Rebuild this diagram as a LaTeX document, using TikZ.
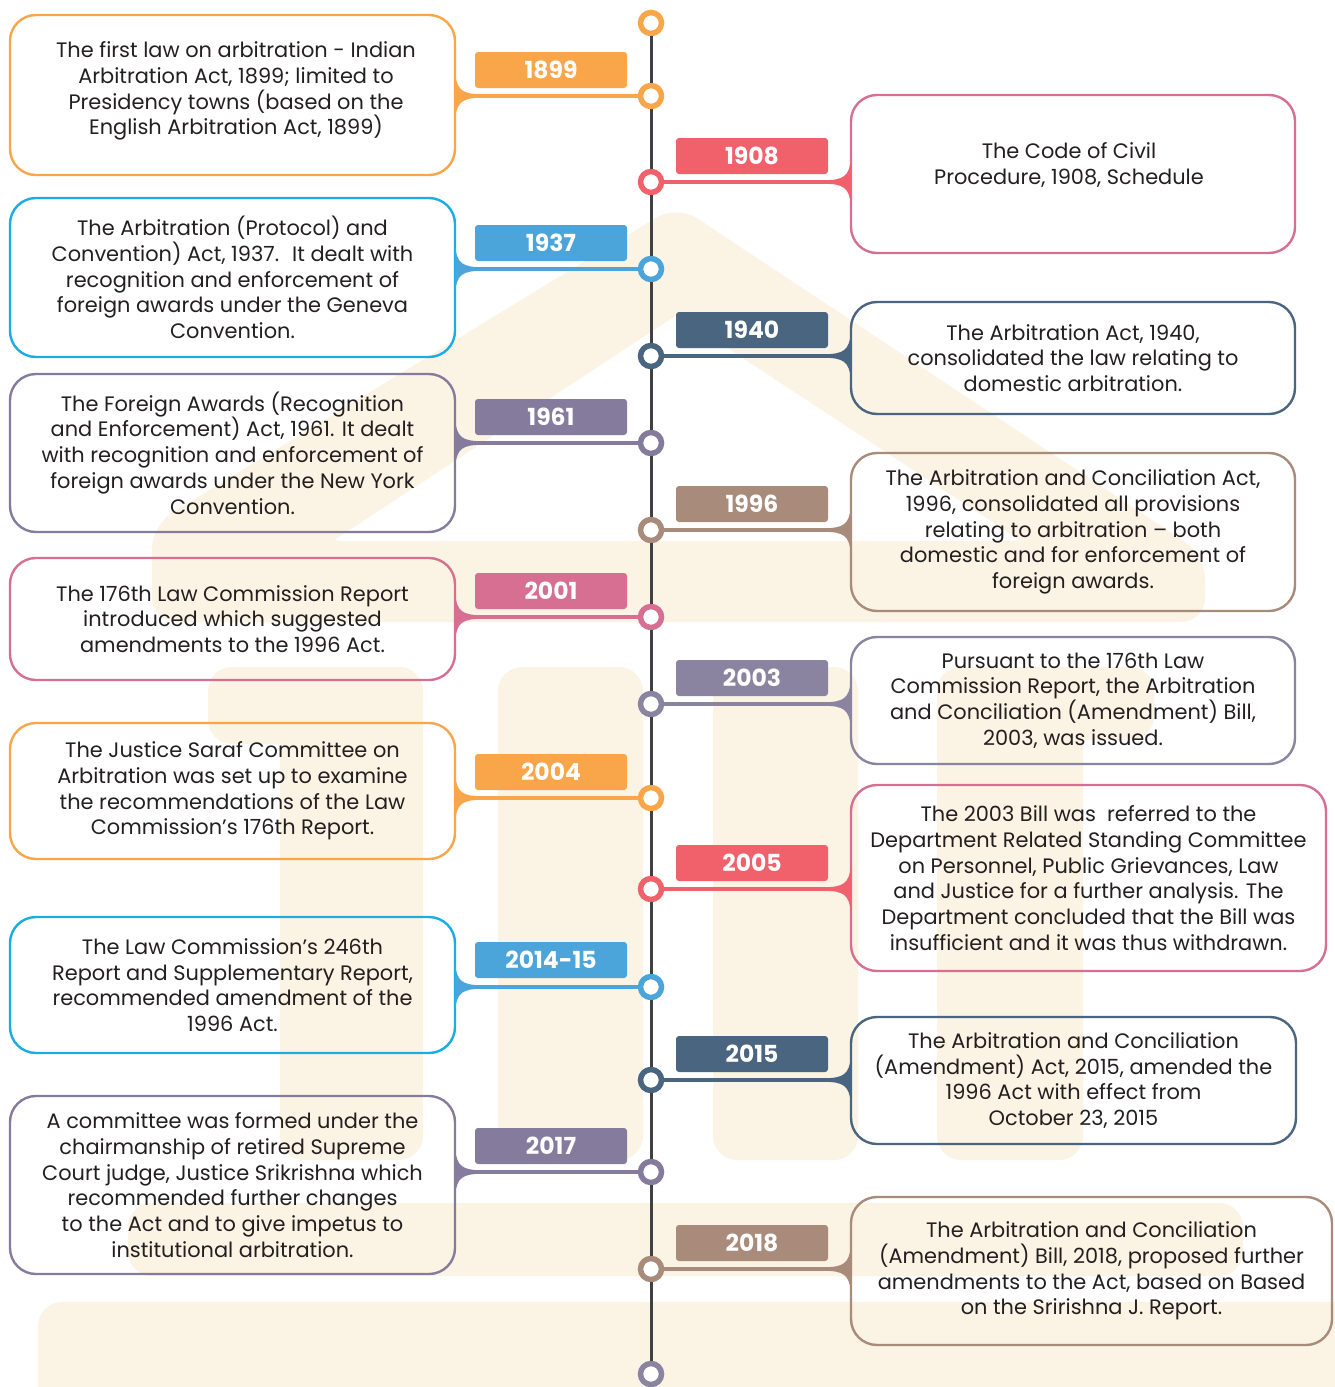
\documentclass[tikz,border=0pt]{standalone}
\usepackage{fontspec}
\setmainfont{Poppins}
\usetikzlibrary{positioning,calc}

\definecolor{cOrange}{HTML}{F9A54A}
\definecolor{cRed}{HTML}{F0616B}
\definecolor{cPink}{HTML}{D66F91}
\definecolor{cBlue}{HTML}{4BA5DA}
\definecolor{cCyan}{HTML}{1AADE4}
\definecolor{cSlate}{HTML}{4A6580}
\definecolor{cPurple}{HTML}{857C9D}
\definecolor{cBrown}{HTML}{A88B7A}
\definecolor{cGrey}{HTML}{8A84A0}
\definecolor{cCream}{HTML}{FBF3E3}
\definecolor{cSpine}{HTML}{414042}
\definecolor{cText}{HTML}{231F20}

% fillet where a connector meets its box (colour, joint, side)
\newcommand{\flare}[3]{%
  \begin{scope}[shift={(#2)}, xscale=#3]
    \fill[#1] (-1,-22) .. controls (1,-6) and (6,-1.8) .. (26,-1.8) -- (26,1.8) .. controls (6,1.8) and (1,6) .. (-1,22) -- cycle;
  \end{scope}}

\begin{document}
\begin{tikzpicture}[
    x=1pt, y=-1pt,
    event/.style={draw=#1, line width=2.4pt, rounded corners=26pt, align=center, inner sep=0pt,
                  text=cText, font=\fontsize{20.9}{25.7}\selectfont},
    year/.style={fill=#1, rounded corners=3pt, minimum width=152pt, minimum height=36pt, inner sep=0pt,
                 text=white, font=\fontsize{23.5}{23.5}\selectfont\bfseries},
    milestone/.style={circle, draw=#1, line width=5.5pt, fill=white, minimum size=21pt, inner sep=0pt},
    link/.style={draw=#1, line width=3.6pt},
    spine/.style={draw=cSpine, line width=3pt},
    cream/.style={fill=cCream, rounded corners=24pt}
]
\useasboundingbox (0,0) rectangle (1335,1387);

% Watermark house
\fill[cream] (152,622) -- (152,525) -- (677,205) -- (1205,555) -- (1205,622) -- cycle;
\fill[white, rounded corners=4pt] (333,541) -- (677,315) -- (1021,541) -- cycle;
\fill[cream] (208,667) rectangle (423,744);
\fill[cream] (280,667) rectangle (423,1160);
\fill[cream] (498,667) rectangle (643,1160);
\fill[cream] (713,667) rectangle (858,1160);
\fill[cream] (937,667) rectangle (1083,1160);
\fill[cream] (937,667) rectangle (1154,740);
\fill[cream] (128,1203) rectangle (1243,1276);
\fill[cream] (38,1302) rectangle (1380,1440);

% Left events
\node[event=cOrange, minimum width=445pt, minimum height=160pt] (b1899) at (232.5,95) {};
\node[align=center, text=cText, font=\fontsize{20.9}{25.7}\selectfont] (t1899) at (236,91)
  {The first law on arbitration - Indian\\Arbitration Act, 1899; limited to\\Presidency towns (based on the\\English Arbitration Act, 1899)};
\node[event=cCyan, minimum width=445pt, minimum height=159pt] (b1937) at (232.5,277.5)
  {The Arbitration (Protocol) and\\Convention) Act, 1937.~ It dealt with\\recognition and enforcement of\\foreign awards under the Geneva\\Convention.};
\node[event=cPurple, minimum width=445pt, minimum height=158pt] (b1961) at (232.5,453)
  {The Foreign Awards (Recognition\\and Enforcement) Act, 1961. It dealt\\with recognition and enforcement of\\foreign awards under the New York\\Convention.};
\node[event=cPink, minimum width=445pt, minimum height=122pt] (b2001) at (232.5,619)
  {The 176th Law Commission Report\\introduced which suggested\\amendments to the 1996 Act.};
\node[event=cOrange, minimum width=445pt, minimum height=136pt] (b2004) at (232.5,791)
  {The Justice Saraf Committee on\\Arbitration was set up to examine\\the recommendations of the Law\\Commission’s 176th Report.};
\node[event=cCyan, minimum width=445pt, minimum height=136pt] (b2014) at (232.5,985)
  {The Law Commission’s 246th\\Report and Supplementary Report,\\recommended amendment of the\\1996 Act.};
\node[event=cPurple, minimum width=445pt, minimum height=178pt] (b2017) at (232.5,1185)
  {A committee was formed under the\\chairmanship of retired Supreme\\Court judge, Justice Srikrishna which\\recommended further changes\\to the Act and to give impetus to\\institutional arbitration.};

% Right events
\node[event=cPink, minimum width=444pt, minimum height=158pt] (b1908) at (1073,174) {};
\node[align=center, text=cText, font=\fontsize{20.9}{25.7}\selectfont] (t1908) at (1069,165)
  {The Code of Civil\\Procedure, 1908, Schedule};
\node[event=cSlate, minimum width=444pt, minimum height=112pt] (b1940) at (1073,358)
  {The Arbitration Act, 1940,\\consolidated the law relating to\\domestic arbitration.};
\node[event=cBrown, minimum width=444pt, minimum height=158pt] (b1996) at (1073,532)
  {The Arbitration and Conciliation Act,\\1996, consolidated all provisions\\relating to arbitration – both\\domestic and for enforcement of\\foreign awards.};
\node[event=cGrey, minimum width=444pt, minimum height=127pt] (b2003) at (1073,700.5)
  {Pursuant to the 176th Law\\Commission Report, the Arbitration\\and Conciliation (Amendment) Bill,\\2003, was issued.};
\node[event=cPink, minimum width=475pt, minimum height=186pt] (b2005) at (1088.5,878)
  {The 2003 Bill was~ referred to the\\Department Related Standing Committee\\on Personnel, Public Grievances, Law\\and Justice for a further analysis. The\\Department concluded that the Bill was\\insufficient and it was thus withdrawn.};
\node[event=cSlate, minimum width=445pt, minimum height=127pt] (b2015) at (1073.5,1080.5)
  {The Arbitration and Conciliation\\(Amendment) Act, 2015, amended the\\1996 Act with effect from\\October 23, 2015};
\node[event=cBrown, minimum width=481pt, minimum height=148pt] (b2018) at (1091.5,1271)
  {The Arbitration and Conciliation\\(Amendment) Bill, 2018, proposed further\\amendments to the Act, based on Based\\on the Sririshna J. Report.};

% Timeline stops
\node[milestone=cOrange] (dTop) at (651,23) {};
\node[milestone=cOrange] (d1899) at (651,96) {};
\node[milestone=cRed] (d1908) at (651,182) {};
\node[milestone=cBlue] (d1937) at (651,269) {};
\node[milestone=cSlate] (d1940) at (651,356) {};
\node[milestone=cPurple] (d1961) at (651,443) {};
\node[milestone=cBrown] (d1996) at (651,530) {};
\node[milestone=cPink] (d2001) at (651,617) {};
\node[milestone=cGrey] (d2003) at (651,704) {};
\node[milestone=cOrange] (d2004) at (651,798) {};
\node[milestone=cRed] (d2005) at (651,889) {};
\node[milestone=cBlue] (d2014) at (651,987) {};
\node[milestone=cSlate] (d2015) at (651,1080) {};
\node[milestone=cPurple] (d2017) at (651,1172) {};
\node[milestone=cBrown] (d2018) at (651,1269) {};
\node[milestone=cGrey] (dEnd) at (651,1374) {};

% Spine
\draw[spine] (dTop) -- (d1899) -- (d1908) -- (d1937) -- (d1940) -- (d1961) -- (d1996) -- (d2001) -- (d2003)
  -- (d2004) -- (d2005) -- (d2014) -- (d2015) -- (d2017) -- (d2018) -- (dEnd);

% Connectors
\coordinate (j1899) at (b1899.east |- d1899);
\coordinate (j1937) at (b1937.east |- d1937);
\coordinate (j1961) at (b1961.east |- d1961);
\coordinate (j2001) at (b2001.east |- d2001);
\coordinate (j2004) at (b2004.east |- d2004);
\coordinate (j2014) at (b2014.east |- d2014);
\coordinate (j2017) at (b2017.east |- d2017);
\coordinate (j1908) at (b1908.west |- d1908);
\coordinate (j1940) at (b1940.west |- d1940);
\coordinate (j1996) at (b1996.west |- d1996);
\coordinate (j2003) at (b2003.west |- d2003);
\coordinate (j2005) at (b2005.west |- d2005);
\coordinate (j2015) at (b2015.west |- d2015);
\coordinate (j2018) at (b2018.west |- d2018);
\draw[link=cOrange] (d1899) -- (j1899); \flare{cOrange}{j1899}{1}
\draw[link=cBlue] (d1937) -- (j1937); \flare{cBlue}{j1937}{1}
\draw[link=cPurple] (d1961) -- (j1961); \flare{cPurple}{j1961}{1}
\draw[link=cPink] (d2001) -- (j2001); \flare{cPink}{j2001}{1}
\draw[link=cOrange] (d2004) -- (j2004); \flare{cOrange}{j2004}{1}
\draw[link=cBlue] (d2014) -- (j2014); \flare{cBlue}{j2014}{1}
\draw[link=cPurple] (d2017) -- (j2017); \flare{cPurple}{j2017}{1}
\draw[link=cRed] (d1908) -- (j1908); \flare{cRed}{j1908}{-1}
\draw[link=cSlate] (d1940) -- (j1940); \flare{cSlate}{j1940}{-1}
\draw[link=cBrown] (d1996) -- (j1996); \flare{cBrown}{j1996}{-1}
\draw[link=cGrey] (d2003) -- (j2003); \flare{cGrey}{j2003}{-1}
\draw[link=cRed] (d2005) -- (j2005); \flare{cRed}{j2005}{-1}
\draw[link=cSlate] (d2015) -- (j2015); \flare{cSlate}{j2015}{-1}
\draw[link=cBrown] (d2018) -- (j2018); \flare{cBrown}{j2018}{-1}

% Year labels
\node[year=cOrange] (y1899) at (551,70) {1899};
\node[year=cBlue] (y1937) at (551,243) {1937};
\node[year=cPurple] (y1961) at (551,417) {1961};
\node[year=cPink] (y2001) at (551,591) {2001};
\node[year=cOrange] (y2004) at (551,772) {2004};
\node[year=cBlue] (y2014) at (551,960) {2014-15};
\node[year=cPurple] (y2017) at (551,1146) {2017};
\node[year=cRed] (y1908) at (752,156) {1908};
\node[year=cSlate] (y1940) at (752,330) {1940};
\node[year=cBrown] (y1996) at (752,504) {1996};
\node[year=cGrey] (y2003) at (752,678) {2003};
\node[year=cRed] (y2005) at (752,863) {2005};
\node[year=cSlate] (y2015) at (752,1054) {2015};
\node[year=cBrown] (y2018) at (752,1243) {2018};

\end{tikzpicture}
\end{document}
